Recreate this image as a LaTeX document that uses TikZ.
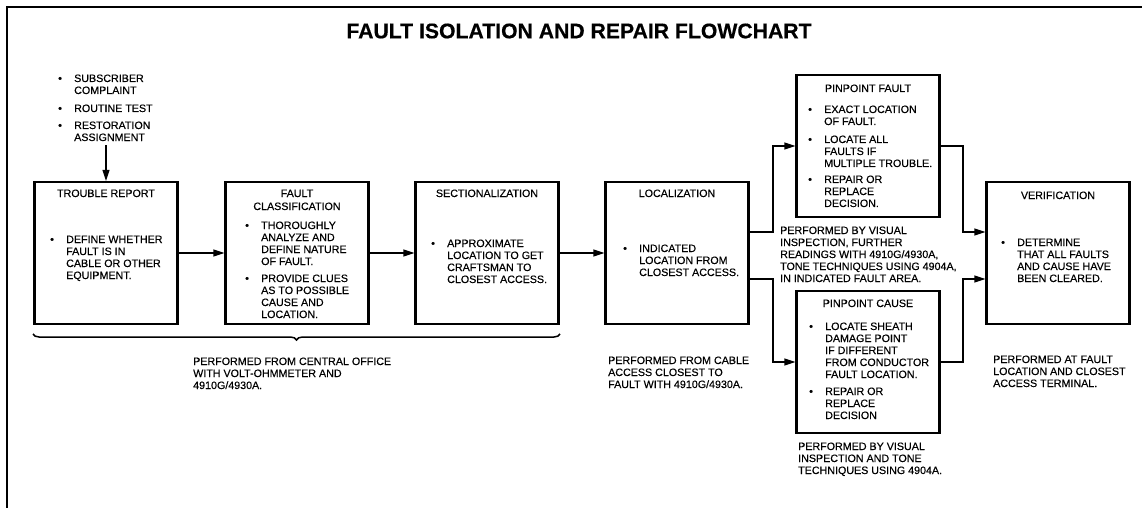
\documentclass[tikz,border=0pt]{standalone}
\usepackage{fontspec}
\setmainfont{Liberation Sans}[FakeBold=0.4]
\newfontfamily\inkfont{Liberation Sans}[FakeBold=0.4]
\usepackage{tikz}
\usetikzlibrary{arrows.meta,positioning,decorations.pathreplacing}

% bullet list and stacked lines
\newcommand{\blist}[1]{\begin{tabular}[t]{@{}p{16pt}@{}l@{}}#1\end{tabular}}
\newcommand{\lines}[1]{\begin{tabular}[t]{@{}l@{}}#1\end{tabular}}
\newcommand{\clines}[1]{\begin{tabular}[t]{@{}c@{}}#1\end{tabular}}

\begin{document}
\begin{tikzpicture}[x=1pt,y=-1pt,
box/.style={rectangle,draw,line width=2.2pt,minimum width=143pt,minimum height=142pt},
txt/.style={inner sep=0pt,font=\inkfont\fontsize{10.7}{12}\selectfont,anchor=base west},
ttl/.style={inner sep=0pt,font=\inkfont\fontsize{10.7}{13}\selectfont,anchor=base},
arr/.style={-{Triangle[length=11pt,width=7pt]},line width=1.3pt},
brc/.style={decorate,decoration={brace,mirror,amplitude=6pt},line width=1.5pt}
]
\useasboundingbox (0,0) rectangle (1142,508);
\draw[line width=1.6pt] (7,508) -- (7,7) -- (1142,7);

\node[font=\bfseries\fontsize{21.2}{24}\selectfont] (title) at (579,31) {FAULT ISOLATION AND REPAIR FLOWCHART};

% boxes
\node[box] (rep) at (106,253) {};
\node[box] (cls) at (297,253) {};
\node[box] (sec) at (487,253) {};
\node[box] (loc) at (677,253) {};
\node[box] (pf) at (868,146) {};
\node[box] (pc) at (868,362) {};
\node[box] (ver) at (1058,253) {};

% box texts
\node[ttl] (repT) at (106,197) {TROUBLE REPORT};
\node[txt] (repL) at (50,243) {\blist{\textbullet & DEFINE WHETHER\\ & FAULT IS IN\\ & CABLE OR OTHER\\ & EQUIPMENT.}};
\node[ttl] (clsT) at (297,197) {\clines{FAULT\\CLASSIFICATION}};
\node[txt] (clsL) at (245,229) {\blist{\textbullet & THOROUGHLY\\ & ANALYZE AND\\ & DEFINE NATURE\\ & OF FAULT.\\[5pt]
  \textbullet & PROVIDE CLUES\\ & AS TO POSSIBLE\\ & CAUSE AND\\ & LOCATION.}};
\node[ttl] (secT) at (487,197) {SECTIONALIZATION};
\node[txt] (secL) at (431,247) {\blist{\textbullet & APPROXIMATE\\ & LOCATION TO GET\\ & CRAFTSMAN TO\\ & CLOSEST ACCESS.}};
\node[ttl] (locT) at (677,197) {LOCALIZATION};
\node[txt] (locL) at (623,252) {\blist{\textbullet & INDICATED\\ & LOCATION FROM\\ & CLOSEST ACCESS.}};
\node[ttl] (pfT) at (868,92) {PINPOINT FAULT};
\node[txt] (pfL) at (808,113) {\blist{\textbullet & EXACT LOCATION\\ & OF FAULT.\\[6pt]
  \textbullet & LOCATE ALL\\ & FAULTS IF\\ & MULTIPLE TROUBLE.\\[4pt]
  \textbullet & REPAIR OR\\ & REPLACE\\ & DECISION.}};
\node[ttl] (pcT) at (868,307) {PINPOINT CAUSE};
\node[txt] (pcL) at (809,330) {\blist{\textbullet & LOCATE SHEATH\\ & DAMAGE POINT\\ & IF DIFFERENT\\ & FROM CONDUCTOR\\ & FAULT LOCATION.\\[5pt]
  \textbullet & REPAIR OR\\ & REPLACE\\ & DECISION}};
\node[ttl] (verT) at (1058,199) {VERIFICATION};
\node[txt] (verL) at (1001,246) {\blist{\textbullet & DETERMINE\\ & THAT ALL FAULTS\\ & AND CAUSE HAVE\\ & BEEN CLEARED.}};

% sources of the report
\node[txt] (src) at (58,82) {\blist{\textbullet & SUBSCRIBER\\ & COMPLAINT\\[6pt]
  \textbullet & ROUTINE TEST\\[5pt]
  \textbullet & RESTORATION\\ & ASSIGNMENT}};

% notes
\node[txt] (noteCO) at (193,365) {\lines{PERFORMED FROM CENTRAL OFFICE\\WITH VOLT-OHMMETER AND\\4910G/4930A.}};
\node[txt] (noteLoc) at (608,364) {\lines{PERFORMED FROM CABLE\\ACCESS CLOSEST TO\\FAULT WITH 4910G/4930A.}};
\node[txt] (notePF) at (780,234) {\lines{PERFORMED BY VISUAL\\INSPECTION, FURTHER\\READINGS WITH 4910G/4930A,\\TONE TECHNIQUES USING 4904A,\\IN INDICATED FAULT AREA.}};
\node[txt] (notePC) at (798,450) {\lines{PERFORMED BY VISUAL\\INSPECTION AND TONE\\TECHNIQUES USING 4904A.}};
\node[txt] (noteVer) at (993,363) {\lines{PERFORMED AT FAULT\\LOCATION AND CLOSEST\\ACCESS TERMINAL.}};

% connectors
\coordinate (in) at (106,145);
\coordinate (j1) at (773,232);
\coordinate (j2) at (773,279);
\coordinate (k1) at (963,232);
\coordinate (k2) at (963,279);
\draw[arr] (in) -- (rep);
\draw[arr] (rep) -- (cls);
\draw[arr] (cls) -- (sec);
\draw[arr] (sec) -- (loc);
\draw[arr] (loc.east |- j1) -- (j1) |- (pf);
\draw[arr] (loc.east |- j2) -- (j2) |- (pc);
\draw[arr] (pf) -| (k1) -- (ver.west |- k1);
\draw[arr] (pc) -| (k2) -- (ver.west |- k2);
\draw[brc] (33,334) -- (560,334);
\end{tikzpicture}
\end{document}
